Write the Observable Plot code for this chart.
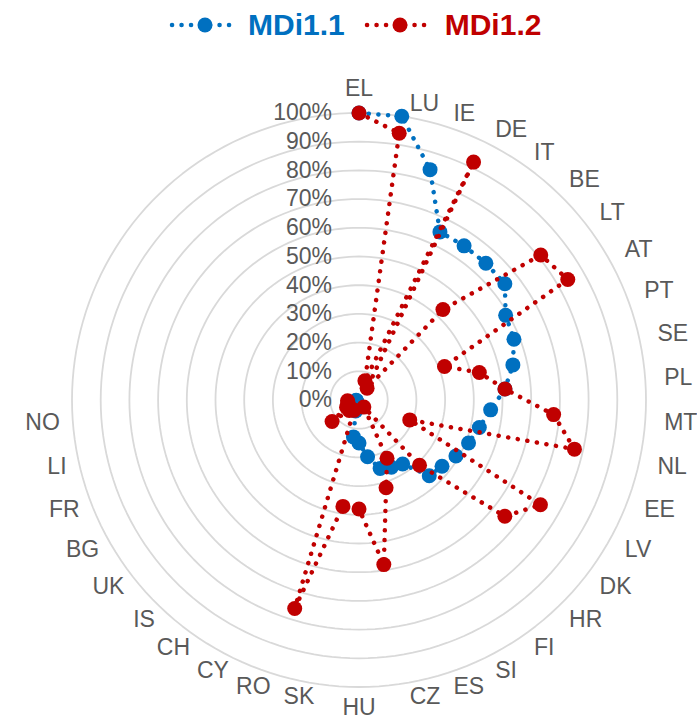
<!DOCTYPE html>
<html>
<head>
<meta charset="utf-8">
<script src="https://cdn.jsdelivr.net/npm/d3@7"></script>
<script src="https://cdn.jsdelivr.net/npm/@observablehq/plot@0.6"></script>
<style>
  body { margin: 0; background: #fff; font-family: "Liberation Sans", Arial, sans-serif; }
  #legend { height: 50px; display: flex; align-items: center; padding-left: 169px; box-sizing: border-box; width: 697px; }
  #legend .lab { font-weight: bold; font-size: 30px; line-height: 30px; }
</style>
</head>
<body>
<div id="legend"></div>
<div id="chart"></div>
<script>
// ---- data ----
const categories = ["EL","LU","IE","DE","IT","BE","LT","AT","PT","SE","PL","MT","NL","EE","LV","DK","HR","FI","SI","ES","CZ","HU","SK","RO","CY","CH","IS","UK","BG","FR","LI","NO"];
const emptySlots = 10; // unlabeled axes at the upper left
const seriesNames = ["MDi1.1", "MDi1.2"];
const mdi11 = [100,100,84,65,65,65,65,59,58,55,51,46,43,41,39,37,36,27,26,25,20,15,13,4,2,2,2,2,1,1,1,1];
const mdi12 = [100,94,7,92,5,43,81,84,32,43,51,68,77,19,73,65,31,3,22.5,32,58,38,37.5,76,4,4,5,12,5,4,4,4];
const tickValues = [0,10,20,30,40,50,60,70,80,90,100];
const colors = ["#0070C0", "#C00000"];

// ---- geometry ----
const W = 697, H = 670, cx = 358.5, cy = 349.5, R = 287;
const nAxes = categories.length + emptySlots;
const ang = i => i * 2 * Math.PI / nAxes;
const X = (i, v) => v * Math.sin(ang(i));
const Y = (i, v) => v * Math.cos(ang(i));

const rows = (vals, s) => vals.map((v, i) => ({cat: categories[i], i, v, s}));
const blue = rows(mdi11, seriesNames[0]);
const red = rows(mdi12, seriesNames[1]);

const grid = tickValues.filter(t => t > 0).flatMap(t => d3.range(0, 361, 2).map(a => ({t, a: a * Math.PI / 180})));

const labelR = 300 / R * 100;
const labels = categories.map((c, i) => ({c, i, s: Math.sin(ang(i)), co: Math.cos(ang(i))}));

const font = "Liberation Sans, Arial, sans-serif";
const lineOpts = (color) => ({
  x: d => X(d.i, d.v), y: d => Y(d.i, d.v),
  stroke: color, strokeWidth: 4.5, strokeDasharray: "0.1 9.6", strokeLinecap: "round", curve: "linear"
});
const dotOpts = (color) => ({x: d => X(d.i, d.v), y: d => Y(d.i, d.v), r: 7.5, fill: color});
const labOpts = {x: d => X(d.i, labelR), y: d => Y(d.i, labelR), text: "c", fill: "#595959", fontSize: 23, fontFamily: font};

const chart = Plot.plot({
  width: W, height: H,
  marginTop: 0, marginRight: 0, marginBottom: 0, marginLeft: 0,
  x: {domain: [-cx / R * 100, (W - cx) / R * 100], range: [0, W], axis: null},
  y: {domain: [-(H - cy) / R * 100, cy / R * 100], range: [H, 0], axis: null},
  style: {fontFamily: font, background: "white"},
  marks: [
    Plot.line(grid, {x: d => d.t * Math.sin(d.a), y: d => d.t * Math.cos(d.a), z: "t", stroke: "#d9d9d9", strokeWidth: 1.8}),
    Plot.text(tickValues, {x: 0, y: d => d, text: d => d + "%", textAnchor: "end", dx: -27, fill: "#595959", fontSize: 23, fontFamily: font}),
    Plot.line(blue, lineOpts(colors[0])),
    Plot.dot(blue, dotOpts(colors[0])),
    Plot.line(red, lineOpts(colors[1])),
    Plot.dot(red, dotOpts(colors[1])),
    Plot.text(labels.filter(d => d.s > 0.05), {...labOpts, textAnchor: "start", dx: 6}),
    Plot.text(labels.filter(d => d.s < -0.05), {...labOpts, textAnchor: "end"}),
    Plot.text(labels.filter(d => Math.abs(d.s) <= 0.05 && d.co > 0), {...labOpts, textAnchor: "middle", lineAnchor: "bottom", dy: -4}),
    Plot.text(labels.filter(d => Math.abs(d.s) <= 0.05 && d.co < 0), {...labOpts, textAnchor: "middle", lineAnchor: "top", dy: -1})
  ]
});
document.getElementById("chart").appendChild(chart);

// ---- legend ----
const legend = document.getElementById("legend");
seriesNames.forEach((name, k) => {
  const ns = "http://www.w3.org/2000/svg";
  const sw = document.createElementNS(ns, "svg");
  sw.setAttribute("width", 72); sw.setAttribute("height", 20);
  sw.style.marginRight = k === 0 ? "7px" : "9px";
  const ln = document.createElementNS(ns, "line");
  ln.setAttribute("x1", 3); ln.setAttribute("x2", 69); ln.setAttribute("y1", 10); ln.setAttribute("y2", 10);
  ln.setAttribute("stroke", colors[k]); ln.setAttribute("stroke-width", 4.5);
  ln.setAttribute("stroke-dasharray", "0.1 9.4"); ln.setAttribute("stroke-linecap", "round");
  const c = document.createElementNS(ns, "circle");
  c.setAttribute("cx", 36); c.setAttribute("cy", 10); c.setAttribute("r", 7.5); c.setAttribute("fill", colors[k]);
  sw.appendChild(ln); sw.appendChild(c);
  const sp = document.createElement("span");
  sp.className = "lab"; sp.textContent = name; sp.style.color = colors[k];
  if (k === 0) sp.style.marginRight = "19px";
  legend.appendChild(sw); legend.appendChild(sp);
});
</script>
</body>
</html>
